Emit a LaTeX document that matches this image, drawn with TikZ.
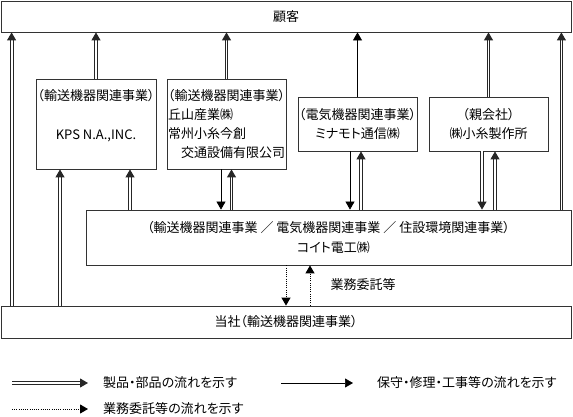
\documentclass[tikz,border=0pt]{standalone}
\usepackage{fontspec}
\setmainfont{Noto Sans CJK JP}[RawFeature=+palt]
\usetikzlibrary{arrows.meta}
\definecolor{boxgray}{HTML}{333333}

\begin{document}
\begin{tikzpicture}[
  x=1pt, y=-1pt,
  >={Triangle[length=8pt,width=9pt]},
  font=\fontsize{13}{19.3}\selectfont,
  box/.style={draw=boxgray, line width=0.8pt, inner sep=0pt, align=center},
  lbl/.style={inner sep=0pt, anchor=west},
  prod/.style={->, draw=black!85, double=white, double distance=1.8pt, line width=1pt},
  serv/.style={->, line width=0.7pt},
  itaku/.style={->, line width=1pt, dash pattern=on 1pt off 1.2pt}
]
  \useasboundingbox (0,0) rectangle (573,416);

  \node[box, minimum width=570pt, minimum height=31pt] (kokyaku) at (286,16.5) {顧客};
  \node[box, minimum width=120pt, minimum height=90pt] (kps) at (96,124)
    {（輸送機器関連事業）\\ \mbox{}\\ KPS N.A.,INC.\\ \mbox{}};
  \node[box, align=left, minimum width=119pt, minimum height=90pt] (okayama) at (226.5,124)
    {（輸送機器関連事業）\\丘山産業㈱\\常州小糸今創\\　交通設備有限公司};
  \node[box, minimum width=119pt, minimum height=54pt] (minamoto) at (357.5,124)
    {（電気機器関連事業）\\ミナモト通信㈱};
  \node[box, minimum width=119pt, minimum height=54pt] (oya) at (488.5,124)
    {（親会社）\\㈱小糸製作所};
  \node[box, minimum width=485pt, minimum height=55pt] (koitodenko) at (328.5,237.5)
    {（輸送機器関連事業\ ／\ 電気機器関連事業\ ／\ 住設環境関連事業）\\\hspace*{10pt}コイト電工㈱};
  \node[box, minimum width=570pt, minimum height=32pt] (tosha) at (286,322)
    {当社（輸送機器関連事業）};

  \coordinate (toshaW) at ([xshift=11pt]tosha.north west);
  \coordinate (kpsL) at ([xshift=-36pt]kps.south);
  \coordinate (kpsR) at ([xshift=34pt]kps.south);
  \coordinate (okaL) at ([xshift=-5.5pt]okayama.south);
  \coordinate (okaR) at ([xshift=5pt]okayama.south);
  \coordinate (minaL) at ([xshift=-7.5pt]minamoto.south);
  \coordinate (minaR) at ([xshift=3.5pt]minamoto.south);
  \coordinate (oyaL) at ([xshift=-6.5pt]oya.south);
  \coordinate (oyaR) at ([xshift=6.5pt]oya.south);
  \coordinate (denE) at ([xshift=-10pt]koitodenko.north east);
  \coordinate (denL) at ([xshift=-42.5pt]koitodenko.south);
  \coordinate (denR) at ([xshift=-18.5pt]koitodenko.south);

  \draw[prod] (toshaW) -- (toshaW |- kokyaku.south);
  \draw[prod] (kps.north) -- (kps.north |- kokyaku.south);
  \draw[prod] (kpsL |- tosha.north) -- (kpsL);
  \draw[prod] (kpsR |- koitodenko.north) -- (kpsR);
  \draw[prod] (okayama.north) -- (okayama.north |- kokyaku.south);
  \draw[serv] (okaL) -- (okaL |- koitodenko.north);
  \draw[prod] (okaR |- koitodenko.north) -- (okaR);
  \draw[serv] (minamoto.north) -- (minamoto.north |- kokyaku.south);
  \draw[serv] (minaL) -- (minaL |- koitodenko.north);
  \draw[prod] (minaR |- koitodenko.north) -- (minaR);
  \draw[prod] (oya.north) -- (oya.north |- kokyaku.south);
  \draw[prod] (oyaL) -- (oyaL |- koitodenko.north);
  \draw[prod] (oyaR |- koitodenko.north) -- (oyaR);
  \draw[prod] (denE) -- (denE |- kokyaku.south);
  \draw[itaku] (denL) -- (denL |- tosha.north);
  \draw[itaku] (denR |- tosha.north) -- (denR);
  \node (itakulbl) at (363,285) {業務委託等};

  \node[lbl] (lgprod) at (103,383) {製品・部品の流れを示す};
  \node[lbl] (lgserv) at (377,383) {保守・修理・工事等の流れを示す};
  \node[lbl] (lgitaku) at (103,409) {業務委託等の流れを示す};
  \coordinate (lgprodS) at (12,383);
  \coordinate (lgservS) at (281,383);
  \coordinate (lgitakuS) at (12,409);
  \draw[prod] (lgprodS) -- ([xshift=-15pt]lgprod.west);
  \draw[serv] (lgservS) -- ([xshift=-24pt]lgserv.west);
  \draw[itaku] (lgitakuS) -- ([xshift=-15pt]lgitaku.west);
\end{tikzpicture}
\end{document}
